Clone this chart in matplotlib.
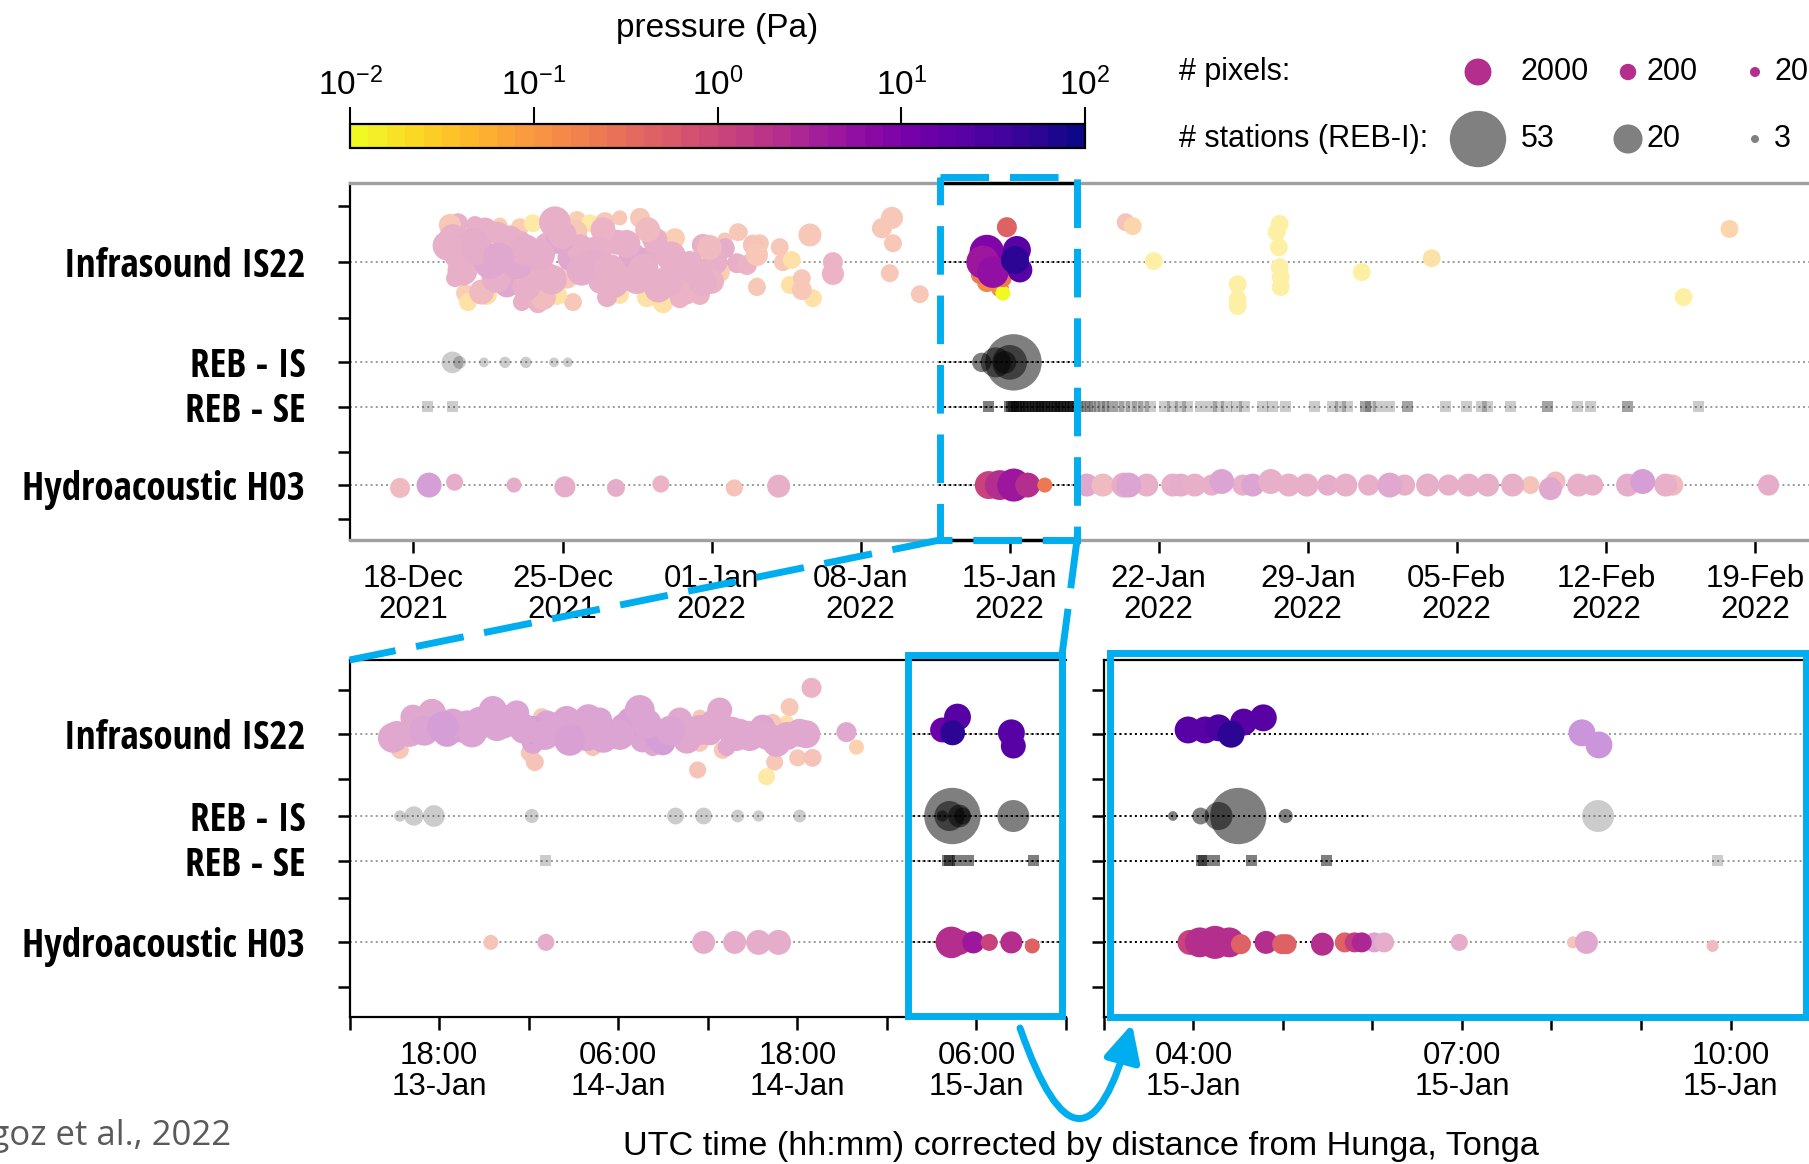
import numpy as np
import pandas as pd
import matplotlib
matplotlib.use('Agg')
import matplotlib.pyplot as plt
import matplotlib.dates as mdates
from matplotlib import font_manager as fm
from matplotlib.colors import LogNorm
from matplotlib.cm import ScalarMappable
from matplotlib.patches import Rectangle, FancyArrowPatch

# ---------------- data ----------------
# top panel: days after 2021-12-15, dy = vertical spread inside the row
top_is22_day = [4.85, 5.09, 5.89, 5.79, 6.59, 7.86, 7.39, 7.06, 6.97, 8.00,
                8.61, 9.64, 9.27, 10.68, 11.29, 12.00, 12.69, 13.64, 10.82, 10.35,
                11.43, 12.55, 13.30, 13.96, 13.49, 14.90, 15.51, 16.59, 16.59, 15.28,
                14.10, 14.72, 17.62, 17.62, 18.24, 18.94, 18.19, 18.66, 19.13, 17.39,
                16.78, 4.95, 5.42, 5.56, 6.45, 8.09, 8.85, 9.74, 10.49, 12.09,
                12.70, 13.96, 14.72, 15.51, 16.45, 8.61, 10.20, 11.76, 8.00, 9.27,
                5.19, 8.24, 9.88, 12.22, 15.98, 14.34, 6.36, 10.58, 17.16, 4.71,
                18.35, 18.94, 19.27, 19.13, 18.66, 20.20, 20.35, 20.77, 21.62, 19.13,
                20.68, 21.24, 21.24, 21.76, 22.70, 22.70, 25.00, 25.47, 25.52, 25.37, 26.78,
                29.93, 30.54, 30.68, 29.60, 30.68, 30.87, 29.93, 29.74, 30.21, 31.34, 31.48, 31.25,
                36.45, 36.78, 37.77, 43.68, 43.54, 43.64, 43.68, 43.73, 43.73, 41.71,
                41.71, 41.71, 47.53, 50.82, 62.65, 64.81,
                4.60, 5.30, 6.00, 6.90, 7.50, 8.30, 8.90, 9.50, 10.00, 10.90,
                11.60, 12.40, 13.00, 13.80, 14.50, 15.10, 15.80, 16.30, 17.00, 7.00,
                11.90, 9.10, 6.20, 14.00, 16.90]
top_is22_dy = [-0.66, -1.08, -1.03, -0.52, 0.04, 0.04, 0.65, -1.03, -0.80, -0.97,
               -1.08, -1.11, -0.47, -1.17, -1.08, -1.11, -1.23, -1.23, -0.38, -0.10,
               0.09, -0.55, -0.13, -0.05, 0.46, 0.57, 0.57, 0.57, -0.47, -0.66,
               -0.66, -0.66, -0.61, -0.38, -0.83, -0.47, 0.04, 0.04, 0.65, 0.29,
               -0.19, 0.46, 0.88, 1.13, 0.93, 1.13, 1.16, 0.93, 1.13, 0.99,
               0.93, 0.99, 1.16, 1.02, 0.93, 0.29, 0.43, 0.57, -0.55, 0.29,
               -0.19, -0.33, -0.61, 0.23, 0.09, -0.61, -0.89, -0.83, 0.01, -1.03,
               -0.83, -0.52, -0.52, -0.19, 0.09, -0.41, 0.01, -0.05, -0.75, 0.71,
               0.65, 0.46, 0.79, 1.02, 0.01, 0.34, -0.94, -1.23, -0.52, 0.32, 0.91,
               0.57, 0.74, 0.88, 0.37, 0.46, -0.97, -0.27, 0.01, 0.29, -0.33, 0.23, -0.05,
               -1.11, -1.00, -0.02, -1.06, -0.83, -0.41, 0.15, 0.43, 0.71, 0.63,
               1.05, 1.24, 0.29, -0.10, 0.99, -0.92,
               -0.45, 0.25, -0.35, 0.45, -0.60, 0.70, -0.20, 0.50, -0.75, 0.25,
               -0.30, 0.60, -0.50, 0.20, 0.75, -0.15, 0.85, 0.30, 0.55, -0.10,
               -0.90, 1.00, 0.85, -0.90, -0.40]
top_is22_pix = [2400, 500, 300, 4200, 4200, 4200, 1400, 132, 960, 300,
                300, 4200, 1400, 300, 300, 500, 132, 500, 2400, 1400,
                4200, 1400, 2400, 1400, 4200, 4200, 1400, 2400, 800, 500,
                300, 132, 132, 500, 300, 500, 500, 132, 132, 500,
                500, 300, 300, 300, 500, 300, 500, 500, 300, 500,
                300, 500, 500, 500, 500, 1400, 960, 960, 960, 500,
                4200, 4200, 2400, 4200, 2400, 1400, 1400, 1400, 1400, 800,
                132, 300, 300, 800, 500, 300, 300, 300, 960, 300,
                300, 300, 500, 300, 500, 800, 500, 800, 300, 300, 300,
                500, 300, 132, 300, 300, 500, 6500, 5200, 4200, 2400, 1400, 2400,
                300, 300, 300, 300, 300, 300, 300, 300, 300, 300,
                300, 300, 300, 300, 300, 300,
                3250, 3250, 4200, 3250, 3250, 2400, 4200, 3250, 2400, 3250,
                3250, 3250, 2400, 3250, 2400, 3250, 1400, 2400, 1400, 4200,
                1400, 1400, 1400, 1400, 1400]
top_is22_pa = [1.2, 1.2, 1.2, 1.5, 2.5, 2.5, 2.2, 0.15, 1.2, 0.15,
               0.03, 1.2, 1.2, 0.15, 0.03, 0.2, 0.2, 0.2, 1.2, 2,
               1.5, 1.2, 2.2, 1.5, 1.2, 1.2, 1.2, 1.0, 1.0, 0.15,
               0.04, 0.04, 0.2, 1.5, 0.2, 0.3, 1.0, 1.0, 0.04, 0.15,
               0.04, 1.2, 0.15, 0.04, 0.04, 1.2, 0.8, 0.04, 0.2, 1.0,
               0.04, 0.04, 0.04, 0.8, 0.8, 1.2, 0.2, 1.2, 1.2, 1.2,
               1.2, 1.5, 2, 1.2, 1.2, 1.2, 1.2, 0.25, 1.2, 0.2,
               0.2, 0.05, 0.2, 0.2, 0.8, 0.2, 0.2, 0.05, 0.25, 0.2,
               0.05, 0.2, 0.2, 0.04, 0.8, 0.8, 0.25, 0.25, 0.2, 0.2, 0.2,
               0.15, 0.15, 0.012, 0.25, 0.2, 0.5, 8, 5, 6, 25, 25, 60,
               0.3, 0.08, 0.025, 0.025, 0.025, 0.025, 0.025, 0.025, 0.025, 0.025,
               0.025, 0.025, 0.025, 0.05, 0.025, 0.08,
               1.2, 1.2, 1.5, 1.2, 1.2, 1.0, 1.5, 1.2, 1.0, 1.5,
               1.2, 1.2, 1.0, 1.2, 1.0, 1.2, 0.8, 1.0, 0.8, 2.0,
               0.9, 0.5, 0.6, 0.6, 0.6]
top_is22_hunga = [0] * 91 + [1] * 12 + [0] * 16 + [0] * 25

top_rebis_day = [4.83, 5.16, 6.31, 7.30, 8.28, 9.60, 10.25, 31.18, 29.69, 30.35, 30.77, 31.00]
top_rebis_sta = [13, 6, 4, 5, 5, 4, 4, 53, 11, 21, 14, 26]
top_rebis_hunga = [0] * 7 + [1] * 5

top_rebse_day = [3.68, 4.83,
                 30.02, 31.00, 31.10, 31.20, 31.30, 31.45, 31.60, 31.75, 31.90, 32.05, 32.20,
                 32.35, 32.50, 32.65, 32.80, 32.95, 33.10, 33.25, 33.40, 33.55, 33.70, 33.85, 34.00,
                 34.20, 34.35, 34.50, 34.65, 34.80, 35.00, 35.20, 35.40, 35.60, 35.85, 36.10,
                 36.40, 36.70, 37.00, 37.30, 37.60, 38.29, 38.67, 39.04, 39.37, 39.98, 40.49,
                 40.82, 41.20, 41.66, 42.04, 42.88, 43.35, 43.97, 45.33, 46.17, 46.55, 46.87,
                 47.72, 47.72, 47.96, 48.33, 48.85, 49.70, 49.70, 51.48, 52.47, 53.17, 53.45,
                 54.53, 56.27, 56.27, 57.68, 58.29, 60.02, 60.02, 63.35]
top_rebse_hunga = [0] * 2 + [1] * 23 + [0] * 52

top_h03_day = [2.37, 3.73, 4.93, 7.72, 10.11, 12.51, 14.62, 18.07, 20.15,
               30.02, 30.54, 31.19, 31.85, 32.65,
               34.62, 35.38, 36.36, 36.60, 37.44, 38.66, 39.04, 39.69, 40.49, 40.96,
               41.95, 42.42, 43.26, 44.11, 44.96, 45.94, 46.79, 47.86, 48.85, 49.55,
               50.63, 51.61, 52.55, 53.45, 54.62, 55.46, 56.40, 56.64, 57.72, 58.38,
               60.02, 60.73, 61.81, 62.14, 66.64]
top_h03_dy = [0.08, 0, -0.08, 0, 0.05, 0.08, -0.03, 0.08, 0.03,
              0, 0, 0, 0, 0,
              0, 0, 0, 0, 0, 0, 0, 0, 0, -0.1,
              0, 0, -0.1, 0, 0, 0, 0, 0, 0, 0,
              0, 0, 0, 0, 0, 0, 0.1, -0.1, 0, 0,
              0, -0.1, 0, 0, 0]
top_h03_pix = [500, 1400, 240, 132, 650, 300, 240, 240, 960,
               2400, 3250, 5200, 1400, 132,
               960, 960, 1400, 1400, 960, 960, 960, 960, 650, 1400,
               650, 960, 1400, 960, 960, 650, 960, 650, 1400, 650,
               960, 650, 960, 960, 960, 300, 960, 500, 960, 650,
               960, 1400, 960, 650, 650]
top_h03_pa = [0.6, 4, 1.5, 1.5, 1.5, 1.5, 0.8, 0.3, 1.2,
              1.2, 2.5, 5, 2.5, 0.2,
              2, 0.6, 1.5, 3, 1.2, 1.2, 1.5, 1.2, 1.0, 3,
              1.2, 3, 1.0, 1.2, 1.2, 1.5, 1.2, 1.2, 2.5, 1.2,
              1.2, 1.2, 1.2, 1.2, 1.2, 0.3, 2.5, 0.4, 1.2, 1.2,
              1.5, 5, 1.2, 0.6, 1.5]
top_h03_hunga = [0] * 9 + [1] * 5 + [0] * 35

# bottom-left panel: hours after 2022-01-13 12:00
bl_is22_hr = [3.17, 3.37, 4.24, 4.04, 5.52, 6.27, 6.52, 7.39, 7.86, 8.93,
              9.60, 9.87, 10.74, 11.20, 12.28, 12.28, 12.07, 12.41, 12.88, 13.21,
              14.55, 14.75, 15.89, 16.29, 16.76, 17.43, 18.77, 19.44, 19.64, 20.78,
              20.98, 22.12, 22.99, 23.46, 24.13, 24.80, 25.00, 23.46, 26.13, 25.93,
              27.47, 27.67, 28.34, 29.28, 28.61, 30.15, 29.48, 30.95, 28.48, 30.02,
              31.02, 23.32, 27.94, 33.29, 33.96, 26.47, 25.26, 20.31,
              4.71, 8.73, 18.10, 23.46, 13.08,
              39.73, 40.73, 40.40, 44.34, 44.47,
              2.90, 5.00, 6.90, 8.20, 10.30, 11.70, 13.80, 15.30, 16.00, 17.00,
              18.40, 19.90, 21.50, 22.60, 24.50, 25.60, 26.80, 28.00, 29.30, 30.60]
bl_is22_dy = [0.02, 0.44, -0.48, -0.04, -0.60, -0.20, -0.04, -0.12, -0.32, -0.12,
              -0.68, -0.20, -0.48, -0.60, -0.12, 0.24, 0.52, 0.78, -0.48, -0.32,
              -0.40, 0.16, 0.08, 0.36, -0.40, -0.04, -0.40, -0.68, 0.16, 0.08,
              0.24, -0.40, -0.12, -0.48, -0.04, -0.68, 0.44, 0.24, -0.04, 0.16,
              -0.04, -0.20, -0.32, -0.32, 0.24, -0.04, -0.76, -1.30, 0.78, 0.66,
              0.66, 1.00, 1.19, -0.06, 0.36, 0.22, 0.36, 0.36,
              -0.35, -0.35, 0.02, -0.12, 0.02,
              -0.12, -0.48, -0.04, -0.04, 0.33,
              0.10, -0.10, -0.30, -0.05, -0.30, -0.15, -0.20, -0.15, -0.45, 0.10,
              -0.20, -0.30, -0.10, 0.15, -0.30, -0.10, 0.05, 0.05, 0.05, 0.00]
bl_is22_pix = [2400, 300, 1400, 2400, 2400, 4200, 2400, 1400, 1400, 300,
               2400, 2400, 1400, 1400, 2400, 800, 300, 300, 300, 1400,
               2400, 4200, 2400, 300, 1400, 1400, 1400, 3250, 1400, 3250,
               1400, 1400, 1400, 132, 1400, 1400, 300, 300, 2400, 800,
               2400, 1400, 300, 132, 2400, 2400, 300, 500, 240, 240,
               300, 240, 240, 500, 132, 132, 300, 300,
               3250, 3250, 3250, 3250, 3250,
               1400, 2000, 1400, 2000, 1400,
               3250, 3250, 3250, 3250, 3250, 3250, 3250, 3250, 2400, 3250,
               2400, 3250, 3250, 2400, 3250, 2400, 3250, 2400, 2400, 2400]
bl_is22_pa = [2.5, 0.2, 2.5, 2.5, 2.5, 5, 5, 3, 3, 0.2,
              3, 3, 3, 3, 4, 3, 0.25, 0.3, 0.2, 3,
              3, 3.5, 3, 0.3, 3, 3, 4, 3, 3, 4,
              4, 2.5, 2.5, 0.2, 2.5, 2, 0.2, 0.2, 2.5, 2.5,
              2.5, 3, 0.2, 0.06, 2.5, 2.5, 0.25, 0.8, 0.2, 0.2,
              0.3, 0.3, 0.03, 2, 0.1, 0.2, 2, 2,
              2.5, 3, 3, 2.5, 3,
              15, 20, 60, 25, 25,
              2.5, 3, 3, 3, 3, 3, 3, 3, 3, 3,
              3.5, 3, 3, 2.5, 2.5, 2.5, 2.5, 2.5, 2.5, 2.5]
bl_is22_hunga = [0] * 63 + [1] * 5 + [0] * 20

bl_rebis_hr = [3.37, 4.31, 5.65, 12.21, 21.84, 23.72, 26.00, 27.40, 30.15,
               40.39, 39.72, 40.19, 40.86, 41.06, 44.47]
bl_rebis_sta = [5, 11, 13, 7, 9, 9, 6, 5, 6, 53, 5, 21, 14, 9, 23]
bl_rebis_hunga = [0] * 9 + [1] * 6

bl_rebse_hr = [13.15, 40.06, 40.20, 40.73, 41.46, 45.81]
bl_rebse_hunga = [0, 1, 1, 1, 1, 1]

bl_h03_hr = [9.46, 13.15, 23.72, 25.80, 27.40, 28.74, 40.32, 40.86, 41.79, 42.86, 44.34, 45.74]
bl_h03_dy = [0, 0, 0, 0, 0, 0, 0, 0, 0, 0, 0, 0.1]
bl_h03_pix = [132, 240, 960, 960, 1400, 1400, 4200, 1400, 800, 240, 800, 132]
bl_h03_pa = [0.3, 1.5, 1.5, 1.5, 1.5, 1.5, 2.5, 2.5, 4, 1.2, 2.5, 0.4]
bl_h03_hunga = [0] * 6 + [1] * 6

# bottom-right panel: hours after 2022-01-15 00:00
br_is22_hr = [3.94, 4.13, 4.28, 4.56, 4.78, 4.42, 8.34, 8.53]
br_is22_dy = [-0.12, -0.12, -0.18, -0.34, -0.46, 0.0, -0.04, 0.30]
br_is22_pix = [2000, 2000, 2000, 2000, 2000, 2000, 2000, 2000]
br_is22_pa = [20, 20, 30, 25, 20, 60, 8, 8]
br_is22_hunga = [1] * 6 + [0] * 2

br_rebis_hr = [4.50, 3.77, 4.08, 4.28, 5.03, 8.52]
br_rebis_sta = [53, 4, 9, 19, 7, 23]
br_rebis_hunga = [1, 1, 1, 1, 1, 0]

br_rebse_hr = [4.09, 4.11, 4.24, 4.65, 5.49, 9.85]
br_rebse_hunga = [1, 1, 1, 1, 1, 0]

br_h03_hr = [3.96, 4.07, 4.24, 4.40, 4.53, 4.81, 4.99, 5.04, 5.44, 5.69, 5.80, 5.88,
             6.02, 6.13, 6.97, 8.24, 8.39, 9.80]
br_h03_dy = [0, 0, 0, 0, 0.05, 0, 0.05, 0.05, 0.05, 0, 0, 0, 0, 0, 0, 0, 0, 0.1]
br_h03_pix = [1400, 3250, 5200, 3250, 500, 960, 500, 500, 960, 500, 500, 500,
              500, 500, 240, 47, 960, 47]
br_h03_pa = [1.0, 2.5, 2.5, 2.5, 0.4, 2.5, 0.4, 0.4, 2.5, 0.5, 1.5, 3,
             3, 1.5, 1.5, 0.3, 2, 0.6]
br_h03_hunga = [1] * 12 + [0] * 6

row_labels = ['Infrasound IS22', 'REB - IS', 'REB - SE', 'Hydroacoustic H03']
legend_pix = [2000, 200, 20]
legend_sta = [53, 20, 3]

# ---------------- style / layout ----------------
W, H, DPI = 1809, 1164, 100
BLUE = '#00aeef'
PALE = 0.42   # how much of the colour is kept for detections not tied to Hunga
plt.rcParams['font.family'] = ['Liberation Sans', 'DejaVu Sans']
plt.rcParams['mathtext.fontset'] = 'custom'
plt.rcParams['mathtext.rm'] = 'Liberation Sans'
plt.rcParams['mathtext.it'] = 'Liberation Sans:italic'
plt.rcParams['mathtext.bf'] = 'Liberation Sans:bold'

cmap = plt.get_cmap('plasma_r').resampled(40)
norm = LogNorm(1e-2, 1e2)


def pix_area(n):
    d = 10 * (np.asarray(n, float) / 20) ** 0.215
    return (d * 72 / DPI) ** 2


def sta_area(n):
    d = 8 * (np.asarray(n, float) / 3) ** 0.68
    return (d * 72 / DPI) ** 2


def as_dates(ref, offs, unit):
    t = pd.Timestamp(ref) + pd.to_timedelta(np.asarray(offs, float), unit=unit)
    return mdates.date2num(t.to_pydatetime())


# condensed bold font for the row labels, if one is installed
def pick_label_font():
    wmap = {'bold': 700, 'semibold': 600, 'demibold': 600, 'heavy': 800, 'black': 900,
            'extra bold': 800, 'ultrabold': 800}
    best = None
    for f in fm.fontManager.ttflist:
        nm = f.name.lower()
        w = f.weight if isinstance(f.weight, int) else wmap.get(str(f.weight).lower(), 400)
        cond = ('condensed' in nm or 'narrow' in nm or
                str(f.stretch).lower() in ('condensed', 'semi-condensed', 'extra-condensed'))
        if not cond or w < 600 or f.style != 'normal':
            continue
        rank = 5
        for i, key in enumerate(['open sans', 'roboto', 'noto sans', 'dejavu', 'liberation']):
            if key in nm:
                rank = i
                break
        if best is None or rank < best[0]:
            best = (rank, f.fname)
    if best:
        return fm.FontProperties(fname=best[1])
    return fm.FontProperties(family='DejaVu Sans', weight='bold')


fig = plt.figure(figsize=(W / DPI, H / DPI), dpi=DPI)
renderer = fig.canvas.get_renderer()

lab_fp = pick_label_font()
lab_fp.set_size(20)
t = fig.text(0, 0, 'Hydroacoustic H03', fontproperties=lab_fp)
wpx = t.get_window_extent(renderer).width
t.remove()
lab_fp.set_size(min(32, 20 * 283 / wpx))


def fig_rect(x0, y0, x1, y1):
    return [x0 / W, 1 - y1 / H, (x1 - x0) / W, (y1 - y0) / H]


ax_top = fig.add_axes(fig_rect(349.6, 183.3, 1829.4, 540))
ax_bl = fig.add_axes(fig_rect(349.6, 660, 1066, 1017))
ax_br = fig.add_axes(fig_rect(1104, 660, 1820, 1017))

top_rows = [2.20, 5.02, 6.27, 8.46]
top_ticks = [0.63, 2.20, 3.77, 5.02, 6.27, 7.53, 8.46, 9.40]
bot_rows = [2.08, 4.37, 5.63, 7.91]
bot_ticks = [0.84, 2.08, 3.34, 4.37, 5.63, 6.67, 7.91, 9.16]


def tick_labels(ticks, rows, with_text):
    out = []
    for tk in ticks:
        out.append(row_labels[rows.index(tk)] if (with_text and tk in rows) else '')
    return out


def base_axes(ax, rows, ticks, with_text, x0, x1, span):
    ax.set_xlim(x0, x1)
    ax.set_ylim(10, 0)
    ax.set_yticks(ticks, tick_labels(ticks, rows, with_text))
    for lbl in ax.get_yticklabels():
        lbl.set_fontproperties(lab_fp)
    ax.tick_params(axis='y', direction='out', length=9, width=1.8, pad=23)
    ax.tick_params(axis='x', direction='out', length=9, width=1.8, pad=8.5, labelsize=22.5)
    for r in rows:
        ax.axhline(r, color='#9a9a9a', ls=':', lw=1.4, zorder=1)
        ax.plot(span, [r, r], color='k', ls=':', lw=1.4, zorder=1.5)
    for s in ax.spines.values():
        s.set_linewidth(1.6)
    ax.spines['right'].set_visible(False)


def colour_dots(ax, x, y, n, p, hunga):
    x, y, n = np.asarray(x), np.asarray(y), np.asarray(n)
    hunga = np.asarray(hunga) == 1
    rgb = cmap(norm(np.asarray(p, float)))[:, :3]
    rgb[~hunga] = 1 - PALE * (1 - rgb[~hunga])
    # pale background detections first (small to big), then the Hunga ones
    bg = np.where(~hunga)[0]
    order = np.concatenate([bg[np.argsort(n[bg], kind='stable')], np.where(hunga)[0]])
    ax.scatter(x[order], y[order], s=pix_area(n[order]), color=rgb[order],
               linewidths=0, zorder=3)


def reb_dots(ax, x, y, n, hunga):
    ax.scatter(x, y, s=sta_area(n), color='k',
               alpha=np.where(np.asarray(hunga) == 1, 0.5, 0.2), linewidths=0, zorder=3)


def reb_squares(ax, x, y, hunga):
    ax.scatter(x, y, s=(11 * 72 / DPI) ** 2, marker='s', color='k',
               alpha=np.where(np.asarray(hunga) == 1, 0.5, 0.2), linewidths=0, zorder=3)


# ---- top panel ----
T0 = '2021-12-15'
base_axes(ax_top, top_rows, top_ticks, True,
          as_dates(T0, [0], 'D')[0], as_dates(T0, [69.5], 'D')[0],
          as_dates(T0, [27.7, 34.15], 'D'))
colour_dots(ax_top, as_dates(T0, top_is22_day, 'D'), top_rows[0] + np.array(top_is22_dy),
            top_is22_pix, top_is22_pa, top_is22_hunga)
reb_dots(ax_top, as_dates(T0, top_rebis_day, 'D'), np.full(len(top_rebis_day), top_rows[1]),
         top_rebis_sta, top_rebis_hunga)
reb_squares(ax_top, as_dates(T0, top_rebse_day, 'D'), np.full(len(top_rebse_day), top_rows[2]),
            top_rebse_hunga)
colour_dots(ax_top, as_dates(T0, top_h03_day, 'D'), top_rows[3] + np.array(top_h03_dy),
            top_h03_pix, top_h03_pa, top_h03_hunga)
wk = pd.date_range('2021-12-18', periods=10, freq='7D')
ax_top.set_xticks(mdates.date2num(wk.to_pydatetime()), [d.strftime('%d-%b\n%Y') for d in wk])
for s in ('top', 'bottom'):
    ax_top.spines[s].set_color('#a0a0a0')
    ax_top.spines[s].set_linewidth(2.4)
box = as_dates(T0, [27.7, 34.15], 'D')
for yy in (0, 1):
    ax_top.plot(box, [yy, yy], color='k', lw=2.4, transform=ax_top.get_xaxis_transform(),
                clip_on=False, zorder=4)

# ---- bottom-left panel ----
T1 = '2022-01-13 12:00'
base_axes(ax_bl, bot_rows, bot_ticks, True,
          as_dates(T1, [0], 'h')[0], as_dates(T1, [48], 'h')[0],
          as_dates(T1, [37.4, 48], 'h'))
colour_dots(ax_bl, as_dates(T1, bl_is22_hr, 'h'), bot_rows[0] + np.array(bl_is22_dy),
            bl_is22_pix, bl_is22_pa, bl_is22_hunga)
reb_dots(ax_bl, as_dates(T1, bl_rebis_hr, 'h'), np.full(len(bl_rebis_hr), bot_rows[1]),
         bl_rebis_sta, bl_rebis_hunga)
reb_squares(ax_bl, as_dates(T1, bl_rebse_hr, 'h'), np.full(len(bl_rebse_hr), bot_rows[2]),
            bl_rebse_hunga)
colour_dots(ax_bl, as_dates(T1, bl_h03_hr, 'h'), bot_rows[3] + np.array(bl_h03_dy),
            bl_h03_pix, bl_h03_pa, bl_h03_hunga)
hh = pd.date_range('2022-01-13 12:00', '2022-01-15 12:00', freq='6h')
ax_bl.set_xticks(mdates.date2num(hh.to_pydatetime()),
                 [d.strftime('%H:%M\n%d-%b') if d.hour in (6, 18) else '' for d in hh])

# ---- bottom-right panel ----
T2 = '2022-01-15 00:00'
base_axes(ax_br, bot_rows, bot_ticks, False,
          as_dates(T2, [3], 'h')[0], as_dates(T2, [11], 'h')[0],
          as_dates(T2, [3, 5.95], 'h'))
colour_dots(ax_br, as_dates(T2, br_is22_hr, 'h'), bot_rows[0] + np.array(br_is22_dy),
            br_is22_pix, br_is22_pa, br_is22_hunga)
reb_dots(ax_br, as_dates(T2, br_rebis_hr, 'h'), np.full(len(br_rebis_hr), bot_rows[1]),
         br_rebis_sta, br_rebis_hunga)
reb_squares(ax_br, as_dates(T2, br_rebse_hr, 'h'), np.full(len(br_rebse_hr), bot_rows[2]),
            br_rebse_hunga)
colour_dots(ax_br, as_dates(T2, br_h03_hr, 'h'), bot_rows[3] + np.array(br_h03_dy),
            br_h03_pix, br_h03_pa, br_h03_hunga)
h1 = pd.date_range('2022-01-15 03:00', '2022-01-15 11:00', freq='1h')
ax_br.set_xticks(mdates.date2num(h1.to_pydatetime()),
                 [d.strftime('%H:%M\n%d-%b') if d.hour in (4, 7, 10) else '' for d in h1])

for ax in (ax_top, ax_bl, ax_br):
    plt.setp(ax.get_xticklabels(), linespacing=1.05)

# ---- colorbar ----
cax = fig.add_axes(fig_rect(350, 124, 1085, 148))
cb = fig.colorbar(ScalarMappable(norm=norm, cmap=cmap), cax=cax, orientation='horizontal')
cax.xaxis.set_ticks_position('top')
cax.xaxis.set_minor_locator(matplotlib.ticker.NullLocator())
cb.set_ticks([1e-2, 1e-1, 1e0, 1e1, 1e2])
cax.tick_params(axis='x', length=12, width=1.5, labelsize=24, pad=4)
cb.outline.set_linewidth(1.6)

# ---- overlay: legend, labels and blue zoom marks (pixel coords) ----
ov = fig.add_axes([0, 0, 1, 1], zorder=10)
ov.set_xlim(0, W)
ov.set_ylim(H, 0)
ov.axis('off')

ov.text(717, 29, 'pressure (Pa)', fontsize=24, ha='center', va='center')
ov.text(1179, 72, '# pixels:', fontsize=22, va='center')
ov.text(1179, 139, '# stations (REB-I):', fontsize=22, va='center')
leg_x = [1478, 1628, 1755]
lab_x = [1521, 1647, 1774]
ov.scatter(leg_x, [72] * 3, s=pix_area(legend_pix), color=cmap(norm(2.5)), linewidths=0)
ov.scatter(leg_x, [139] * 3, s=sta_area(legend_sta), color='#808080', linewidths=0)
for x, v in zip(lab_x, legend_pix):
    ov.text(x, 72, str(v), fontsize=22, va='center')
for x, v in zip(lab_x, legend_sta):
    ov.text(x, 139, str(v), fontsize=22, va='center')

ov.text(1081, 1146, 'UTC time (hh:mm) corrected by distance from Hunga, Tonga',
        fontsize=24.7, ha='center', va='center')
ov.text(231, 1136, 'Vergoz et al., 2022', fontsize=25, ha='right', va='center',
        family=['Open Sans', 'DejaVu Sans'], color='#5a5a5a')

dash = (0, (7, 3))
ov.add_patch(Rectangle((940, 177), 137, 363, fill=False, ec=BLUE, lw=5, ls=dash,
                       joinstyle='miter'))
ov.plot([940, 349.6], [540, 660], color=BLUE, lw=5, ls=dash)
ov.plot([1077, 1062], [540, 655], color=BLUE, lw=5, ls=dash)
ov.add_patch(Rectangle((908, 655), 154, 361, fill=False, ec=BLUE, lw=5, joinstyle='miter'))
ov.add_patch(Rectangle((1110, 653), 696, 364, fill=False, ec=BLUE, lw=5, joinstyle='miter'))
ov.add_patch(FancyArrowPatch((1020, 1028), (1132, 1024), connectionstyle='arc3,rad=1.62',
                             arrowstyle='-|>,head_length=22,head_width=11', mutation_scale=1,
                             color=BLUE, lw=5, shrinkA=0, shrinkB=0))

fig.savefig('out.png', dpi=DPI)
